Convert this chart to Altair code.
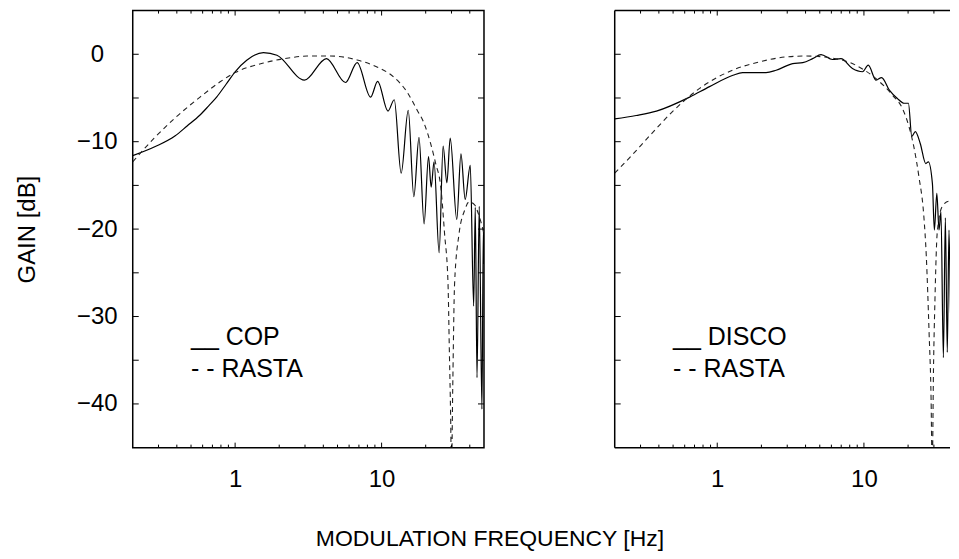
import altair as alt
import pandas as pd

FONT = "Liberation Sans"

# ---------------- data ----------------
# Left panel: COP (solid) and RASTA (dashed)
cop_freq = [0.2, 0.29, 0.388, 0.47, 0.576, 0.66, 0.75, 0.87, 1.0, 1.2, 1.56, 1.93, 2.97, 4.2, 5.67, 6.81, 8.41,
            9.4, 11.05, 12.2, 13.6, 15.2, 16.6, 18.0, 19.5, 20.9, 21.8, 22.8, 24.7, 26.3, 27.9, 29.4, 32.6,
            34.8, 37.2, 40.3, 42.5, 43.6, 44.8, 46.4, 48.4, 49.5, 50.0]
cop_gain = [-11.6, -10.5, -9.35, -8.2, -6.95, -5.9, -4.87, -3.4, -2.0, -0.68, 0.19, -0.11, -2.96, -0.49, -3.23,
            -0.95, -4.9, -3.1, -6.5, -5.2, -13.6, -6.4, -16.3, -9.5, -19.4, -11.7, -15.2, -12.3, -22.7, -10.5,
            -14.7, -9.6, -18.9, -11.4, -16.6, -12.7, -28.8, -17.5, -37.0, -17.4, -40.6, -20.0, -24.0]

rasta_l_freq = [0.2, 0.28, 0.388, 0.576, 0.79, 1.0, 1.56, 2.38, 3.1, 4.47, 6.8, 9.3, 12.1, 14.9, 17.5,
                19.5, 21.6, 23.4, 25.4, 26.9, 28.4, 29.0, 29.6, 30.0, 30.6, 31.5, 33.8, 37.0, 39.5, 43.0,
                46.5, 50.0]
rasta_l_gain = [-12.3, -9.6, -7.3, -4.9, -3.15, -2.1, -1.0, -0.4, -0.2, -0.2, -0.65, -1.45, -2.6, -4.3, -6.4,
                -7.9, -10.2, -12.5, -15.3, -20.5, -26.2, -33.8, -41.4, -48.0, -38.0, -26.2, -20.5, -17.8, -16.9,
                -17.2, -18.6, -20.5]

# Right panel: DISCO (solid) and RASTA (dashed)
disco_freq = [0.2, 0.28, 0.385, 0.648, 0.886, 1.28, 1.49, 2.15, 2.52, 3.27, 3.83, 4.47, 5.1, 6.1, 6.97, 8.35,
              9.78, 10.7, 12.1, 13.2, 14.9, 16.9, 18.8, 20.1, 21.2, 22.4, 24.2, 26.4, 27.5, 29.3, 30.2,
              31.4, 32.5, 33.5, 34.8, 35.9, 37.0, 38.0, 39.2, 40.2, 41.2, 42.2, 43.2, 44.0]
disco_gain = [-7.4, -7.0, -6.5, -4.9, -3.7, -2.4, -2.1, -2.1, -1.83, -1.06, -0.95, -0.5, -0.03, -0.6, -0.5, -1.63,
              -2.0, -1.25, -2.96, -2.66, -4.1, -5.05, -5.6, -5.6, -9.4, -8.85, -10.2, -12.5, -12.3, -14.8, -20.1,
              -15.9, -20.1, -18.0, -34.7, -18.7, -34.1, -20.1, -31.5, -22.0, -43.0, -23.0, -43.0, -25.0]

rasta_r_freq = [0.2, 0.267, 0.365, 0.499, 0.758, 1.28, 1.94, 2.95, 4.03, 5.8, 8.8, 12.1, 15.7, 18.3, 20.3,
                21.9, 23.7, 25.6, 26.6, 27.8, 28.7, 29.2, 29.8, 30.5, 31.6, 34.2, 38.1, 42.1, 44.0]
rasta_r_gain = [-13.6, -11.4, -8.9, -6.5, -3.9, -1.8, -0.87, -0.3, -0.2, -0.38, -1.25, -2.8, -4.7, -6.2, -8.3,
                -10.6, -14.0, -18.5, -23.0, -31.8, -39.5, -48.0, -36.0, -28.0, -20.4, -17.4, -16.8, -17.6, -18.2]

# axis ticks / labels
x_major = [1, 10]
x_minor = [0.3, 0.4, 0.5, 0.6, 0.7, 0.8, 0.9, 2, 3, 4, 5, 6, 7, 8, 9, 20, 30, 40]
y_labels = [0, -10, -20, -30, -40]
y_ticks = [0, -5, -10, -15, -20, -25, -30, -35, -40]

legend_left = ["__ COP", "- - RASTA"]
legend_right = ["__ DISCO", "- - RASTA"]
legend_freq = [0.5, 0.5]
legend_gain = [-32.3, -36.0]

# ---------------- layout ----------------
H = 438
W_L = 352
W_R = 336
XMIN = 0.2
XMAX_L = 50.0
XMAX_R = XMIN * 10 ** (W_R / 147.0)   # right panel is cut by the page edge


def panel(sf, sg, df_, dg, xmax, width, legend, left_axis):
    xs = alt.Scale(type="log", domain=[XMIN, xmax], nice=False)
    ys = alt.Scale(domain=[-45, 5], nice=False, zero=False)
    xaxis = alt.Axis(values=x_major, format="~g", labelFontSize=24, labelFont=FONT, labelColor="black",
                     labelPadding=20, ticks=False, domain=False, grid=False, title=None, labelFlush=False)
    if left_axis:
        yaxis = alt.Axis(values=y_labels, labelFontSize=24, labelFont=FONT, labelColor="black",
                         labelAlign="center", labelPadding=36, ticks=False, domain=False, grid=False,
                         title="GAIN [dB]", titleFontSize=24, titleFont=FONT, titleFontWeight="normal",
                         titleColor="black", titleX=-105, titleY=H / 2, titleBaseline="middle", titleAngle=270)
    else:
        yaxis = None

    X = lambda: alt.X("f:Q", scale=xs, axis=xaxis)
    Y = lambda: alt.Y("g:Q", scale=ys, axis=yaxis)

    solid = alt.Chart(pd.DataFrame({"f": sf, "g": sg})).mark_line(
        clip=True, color="black", strokeWidth=1.2, interpolate="monotone"
    ).encode(x=X(), y=Y())

    dashed = alt.Chart(pd.DataFrame({"f": df_, "g": dg})).mark_line(
        clip=True, color="#222222", strokeWidth=1.1, strokeDash=[5, 4], interpolate="monotone"
    ).encode(x=X(), y=Y())

    ydf = pd.DataFrame({"g": y_ticks})
    yt_left = alt.Chart(ydf).mark_rule(color="black", strokeWidth=1).encode(
        y=Y(), x=alt.value(0), x2=alt.value(6))
    layers = [solid, dashed, yt_left]
    if left_axis:
        yt_right = alt.Chart(ydf).mark_rule(color="black", strokeWidth=1).encode(
            y=Y(), x=alt.value(width - 6), x2=alt.value(width))
        layers.append(yt_right)

    maj = pd.DataFrame({"f": x_major})
    mnr = pd.DataFrame({"f": [v for v in x_minor if v < xmax]})
    for d, ln in ((maj, 5), (mnr, 3)):
        layers.append(alt.Chart(d).mark_rule(color="black", strokeWidth=1).encode(
            x=X(), y=alt.value(H - ln), y2=alt.value(H)))
        layers.append(alt.Chart(d).mark_rule(color="black", strokeWidth=1).encode(
            x=X(), y=alt.value(0), y2=alt.value(ln)))

    if not left_axis:
        one = pd.DataFrame({"a": [0]})
        layers.append(alt.Chart(one).mark_rule(color="black", strokeWidth=1.5).encode(
            x=alt.value(0), y=alt.value(0), y2=alt.value(H)))
        layers.append(alt.Chart(one).mark_rule(color="black", strokeWidth=1.5).encode(
            x=alt.value(0), x2=alt.value(width), y=alt.value(0)))
        layers.append(alt.Chart(one).mark_rule(color="black", strokeWidth=1.5).encode(
            x=alt.value(0), x2=alt.value(width), y=alt.value(H)))

    leg = pd.DataFrame({"f": legend_freq, "g": legend_gain, "t": legend})
    layers.append(alt.Chart(leg).mark_text(align="left", baseline="middle", fontSize=25, font=FONT,
                                           color="black").encode(
        x=X(), y=Y(), text="t:N"))

    if left_axis:
        view = alt.ViewBackground(stroke="black", strokeWidth=1.5, fill="white")
    else:
        view = alt.ViewBackground(stroke="transparent", strokeWidth=0, fill="white")
    return alt.layer(*layers).properties(width=width, height=H, view=view)


left = panel(cop_freq, cop_gain, rasta_l_freq, rasta_l_gain, XMAX_L, W_L, legend_left, True)
right = panel(disco_freq, disco_gain, rasta_r_freq, rasta_r_gain, XMAX_R, W_R, legend_right, False)

chart = alt.hconcat(left, right, spacing=128).properties(
    padding={"left": 7, "top": 0, "right": 0, "bottom": 0},
    title=alt.TitleParams("MODULATION FREQUENCY [Hz]", orient="bottom", anchor="middle", fontSize=23,
                          font=FONT, fontWeight="normal", offset=36, dx=7, color="black"),
).configure(font=FONT)

chart.save("out.html", embed_options={"renderer": "svg", "actions": False})
